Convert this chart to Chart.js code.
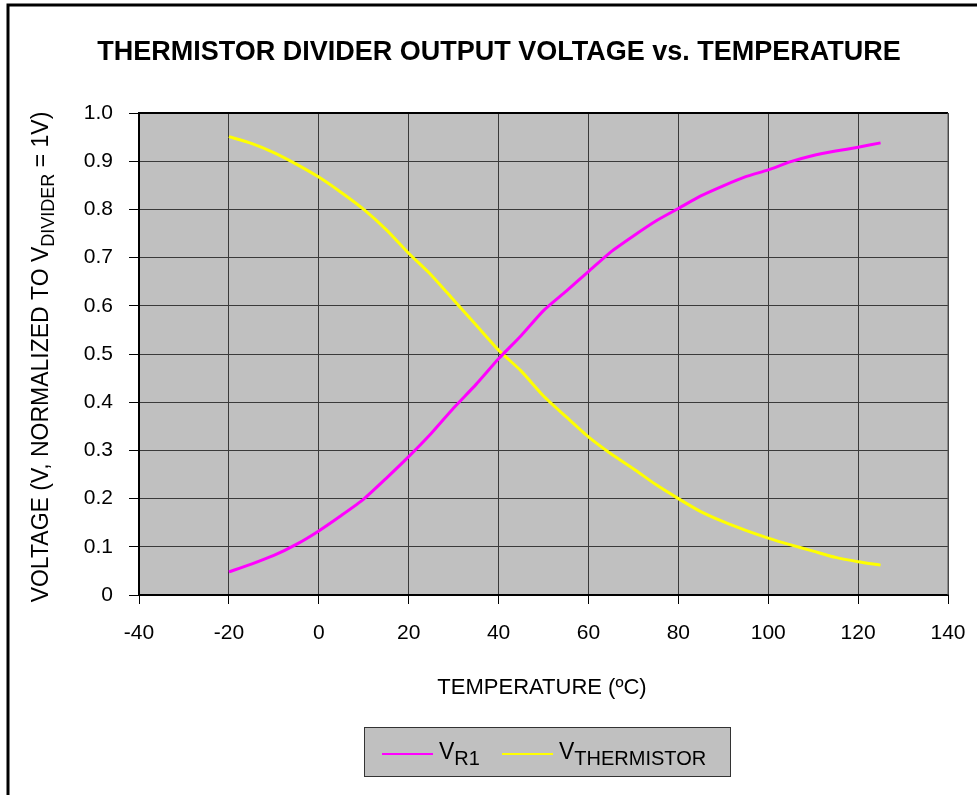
<!DOCTYPE html>
<html>
<head>
  <script src="https://cdn.jsdelivr.net/npm/chart.js@4/dist/chart.umd.min.js"></script>
  <style>
    html, body { margin: 0; padding: 0; background: #fff; }
    #wrap { width: 977px; height: 795px; }
  </style>
</head>
<body>
<div id="wrap">
<canvas id="chart" width="977" height="795"></canvas>
</div>
<script>
  // temperature (deg C)
  var temps = [-20, -15, -10, -5, 0, 5, 10, 15, 20, 25, 30, 35, 40, 45, 50,
               55, 60, 65, 70, 75, 80, 85, 90, 95, 100, 105, 110, 115, 120, 125];
  // V_R1, normalized
  var vR1 = [0.048, 0.064, 0.082, 0.105, 0.133, 0.165, 0.199, 0.242, 0.287, 0.335,
             0.388, 0.437, 0.490, 0.538, 0.590, 0.630, 0.671, 0.712, 0.745, 0.776,
             0.802, 0.828, 0.849, 0.868, 0.882, 0.899, 0.912, 0.921, 0.929, 0.938];
  // V_THERMISTOR, normalized
  var vTherm = [0.951, 0.937, 0.918, 0.894, 0.867, 0.835, 0.800, 0.758, 0.709, 0.664,
                0.612, 0.560, 0.508, 0.465, 0.413, 0.370, 0.328, 0.293, 0.262, 0.229,
                0.200, 0.173, 0.152, 0.134, 0.118, 0.104, 0.091, 0.078, 0.069, 0.062];

  var FONT = '"Liberation Sans", Arial, Helvetica, sans-serif';

  function pts(ys) {
    return temps.map(function (t, i) { return { x: t, y: ys[i] }; });
  }

  // draws text pieces one after another (for subscripts), returns total width
  function drawParts(ctx, parts, x, y, measureOnly) {
    var w = 0;
    parts.forEach(function (p) {
      ctx.font = p.font;
      if (!measureOnly) ctx.fillText(p.text, x + w, y + (p.dy || 0));
      w += ctx.measureText(p.text).width;
    });
    return w;
  }

  var decor = {
    id: 'decor',
    beforeDraw: function (chart) {
      var ctx = chart.ctx, a = chart.chartArea;
      ctx.save();
      ctx.fillStyle = '#c0c0c0';
      ctx.fillRect(a.left, a.top, a.right - a.left, a.bottom - a.top);
      ctx.restore();
    },
    afterDraw: function (chart) {
      var ctx = chart.ctx, a = chart.chartArea;
      ctx.save();

      // outer frame (left and top edges)
      ctx.strokeStyle = '#000';
      ctx.lineWidth = 3;
      ctx.beginPath();
      ctx.moveTo(8, 795);
      ctx.lineTo(8, 5);
      ctx.lineTo(977, 5);
      ctx.stroke();

      // plot frame
      ctx.lineWidth = 2;
      ctx.beginPath();
      ctx.moveTo(a.left, a.bottom);
      ctx.lineTo(a.left, a.top);
      ctx.lineTo(a.right, a.top);
      ctx.stroke();
      ctx.strokeStyle = '#555';
      ctx.lineWidth = 1;
      ctx.beginPath();
      ctx.moveTo(a.right, a.top);
      ctx.lineTo(a.right, a.bottom);
      ctx.stroke();

      ctx.fillStyle = '#000';
      ctx.textBaseline = 'alphabetic';

      // title
      ctx.font = 'bold 27px ' + FONT;
      ctx.textAlign = 'center';
      ctx.fillText('THERMISTOR DIVIDER OUTPUT VOLTAGE vs. TEMPERATURE', 499, 60);

      // x axis title
      ctx.font = '22px ' + FONT;
      ctx.fillText('TEMPERATURE (\u00BAC)', 542, 694);

      // y axis title, with subscript
      ctx.textAlign = 'left';
      var big = '23px ' + FONT, small = '18px ' + FONT;
      var yParts = [
        { text: 'VOLTAGE (V, NORMALIZED TO V', font: big },
        { text: 'DIVIDER', font: small, dy: 6 },
        { text: ' = 1V)', font: big }
      ];
      ctx.save();
      ctx.translate(48, 357);
      ctx.rotate(-Math.PI / 2);
      var tw = drawParts(ctx, yParts, 0, 0, true);
      drawParts(ctx, yParts, -tw / 2, 0);
      ctx.restore();

      // legend box
      var lx = 364, ly = 727, lw = 366, lh = 49;
      ctx.fillStyle = '#c0c0c0';
      ctx.fillRect(lx, ly, lw, lh);
      ctx.strokeStyle = '#333';
      ctx.lineWidth = 1;
      ctx.strokeRect(lx + 0.5, ly + 0.5, lw, lh);

      var items = [
        { sub: 'R1', x: 382 },
        { sub: 'THERMISTOR', x: 502 }
      ];
      chart.data.datasets.forEach(function (ds, i) {
        var it = items[i];
        ctx.strokeStyle = ds.borderColor;
        ctx.lineWidth = 2;
        ctx.beginPath();
        ctx.moveTo(it.x, 754);
        ctx.lineTo(it.x + 51, 754);
        ctx.stroke();
        ctx.fillStyle = '#000';
        drawParts(ctx, [
          { text: 'V', font: '23px ' + FONT },
          { text: it.sub, font: '20px ' + FONT, dy: 6 }
        ], it.x + 57, 759);
      });

      ctx.restore();
    }
  };

  new Chart(document.getElementById('chart'), {
    type: 'line',
    data: {
      datasets: [{
        label: 'V_R1',
        data: pts(vR1),
        borderColor: '#ff00ff',
        borderWidth: 3,
        pointRadius: 0,
        tension: 0.2,
        fill: false
      }, {
        label: 'V_THERMISTOR',
        data: pts(vTherm),
        borderColor: '#ffff00',
        borderWidth: 3,
        pointRadius: 0,
        tension: 0.2,
        fill: false
      }]
    },
    options: {
      responsive: false,
      animation: false,
      events: [],
      layout: { padding: { left: 0, top: 113, right: 29, bottom: 140 } },
      plugins: {
        legend: { display: false },
        title: { display: false },
        tooltip: { enabled: false }
      },
      scales: {
        x: {
          type: 'linear',
          min: -40,
          max: 140,
          afterFit: function (s) {
            s.height = 60;
            s.paddingLeft = 0;
            s.paddingRight = 0;
          },
          border: { display: true, color: '#000', width: 2 },
          grid: { color: '#3a3a3a', lineWidth: 1, tickLength: 9, tickColor: '#000' },
          ticks: {
            stepSize: 20,
            color: '#000',
            padding: 17,
            maxRotation: 0,
            font: { family: FONT, size: 21 }
          }
        },
        y: {
          min: 0,
          max: 1,
          afterFit: function (s) { s.width = 139; },
          border: { display: true, color: '#000', width: 2 },
          grid: { color: '#3a3a3a', lineWidth: 1, tickLength: 10, tickColor: '#000' },
          ticks: {
            stepSize: 0.1,
            color: '#000',
            padding: 16,
            font: { family: FONT, size: 21 },
            callback: function (v) { return v === 0 ? '0' : v.toFixed(1); }
          }
        }
      }
    },
    plugins: [decor]
  });
</script>
</body>
</html>
